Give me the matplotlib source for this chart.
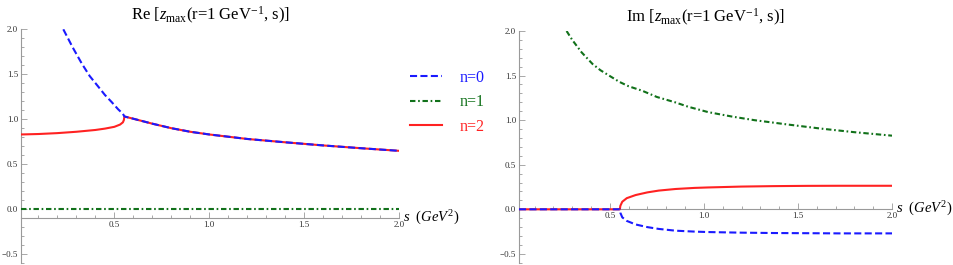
import matplotlib
matplotlib.use("Agg")
import matplotlib.pyplot as plt
from matplotlib.lines import Line2D
from matplotlib.transforms import offset_copy

plt.rcParams['font.family'] = ['Liberation Serif', 'DejaVu Serif']
plt.rcParams['mathtext.fontset'] = 'custom'
plt.rcParams['mathtext.rm'] = 'Liberation Serif'
plt.rcParams['mathtext.it'] = 'Liberation Serif:italic'

# ---------------- data ----------------
series_labels = ['n=0', 'n=1', 'n=2']

# Real part
re_n0_s = [0.231, 0.28, 0.328, 0.37, 0.416, 0.45, 0.486, 0.52, 0.545, 0.553,
           0.6, 0.7, 0.8, 0.9, 1.0, 1.2, 1.4, 1.6, 1.8, 2.0]
re_n0_v = [2.0, 1.80, 1.62, 1.48, 1.36, 1.27, 1.19, 1.11, 1.06, 1.03,
           1.005, 0.95, 0.90, 0.86, 0.83, 0.78, 0.743, 0.708, 0.677, 0.648]
re_n1_s = [0.008, 2.0]
re_n1_v = [0.0, 0.0]
re_n2_s = [0.008, 0.1, 0.2, 0.3, 0.4, 0.45, 0.5, 0.53, 0.545, 0.55, 0.553,
           0.6, 0.7, 0.8, 0.9, 1.0, 1.2, 1.4, 1.6, 1.8, 2.0]
re_n2_v = [0.83, 0.835, 0.845, 0.86, 0.88, 0.895, 0.915, 0.94, 0.965, 0.99, 1.03,
           1.005, 0.95, 0.90, 0.86, 0.83, 0.78, 0.743, 0.708, 0.677, 0.648]

# Imaginary part
im_n0_s = [0.017, 0.553, 0.556, 0.566, 0.59, 0.637, 0.7, 0.76, 0.85, 0.95,
           1.02, 1.2, 1.37, 1.55, 1.72, 2.0]
im_n0_v = [0.0, 0.0, -0.04, -0.09, -0.13, -0.17, -0.20, -0.22, -0.24, -0.25,
           -0.255, -0.262, -0.266, -0.268, -0.27, -0.27]
im_n1_s = [0.27, 0.3, 0.35, 0.408, 0.45, 0.496, 0.55, 0.6, 0.672, 0.75, 0.847,
           0.917, 1.023, 1.15, 1.268, 1.45, 1.619, 1.8, 2.0]
im_n1_v = [2.0, 1.90, 1.76, 1.63, 1.56, 1.50, 1.43, 1.38, 1.33, 1.26, 1.20,
           1.15, 1.09, 1.04, 1.0, 0.95, 0.906, 0.865, 0.826]
im_n2_s = [0.017, 0.553, 0.556, 0.566, 0.59, 0.637, 0.7, 0.76, 0.85, 0.95,
           1.02, 1.2, 1.37, 1.55, 1.72, 2.0]
im_n2_v = [0.0, 0.0, 0.04, 0.085, 0.125, 0.16, 0.19, 0.21, 0.228, 0.24,
           0.245, 0.255, 0.26, 0.263, 0.264, 0.264]

xticks = [0.5, 1.0, 1.5, 2.0]
xtick_labels = ['0.5', '1.0', '1.5', '2.0']
yticks = [-0.5, 0.0, 0.5, 1.0, 1.5, 2.0]
ytick_labels = ['\u22120.5', '0.0', '0.5', '1.0', '1.5', '2.0']
xminor = [0.1 * i for i in range(1, 20)]
yminor = [-0.6 + 0.1 * i for i in range(0, 27)]

titles = [r'Re [$z_{\mathrm{max}}$(r=1 GeV$^{-1}$, s)]',
          r'Im [$z_{\mathrm{max}}$(r=1 GeV$^{-1}$, s)]']
xlabel = r'$s\ \ (GeV^2)$'

# ---------------- styles ----------------
C_BLUE = '#1a1aff'
C_GREEN = '#11711a'
C_RED = '#ff2222'
LW = 1.5
DASH = (3.4, 1.6)
DASHDOT = (2.6, 1.3, 0.8, 1.3)

W, H = 954, 265
fig = plt.figure(figsize=(W / 100, H / 100), dpi=100)


def px_axes(x0, x1, ytop, ybot):
    return fig.add_axes([x0 / W, 1 - ybot / H, (x1 - x0) / W, (ybot - ytop) / H])


axL = px_axes(21, 399, 29.3, 263)
axR = px_axes(519, 892, 31, 262.8)


def style_axis(ax, xmin, xaxis_y):
    ax.set_xlim(xmin, 2.0)
    ax.set_ylim(-0.6, 2.0)
    for sp in ['top', 'right']:
        ax.spines[sp].set_visible(False)
    ax.spines['bottom'].set_position(('data', xaxis_y))
    for sp in ['left', 'bottom']:
        ax.spines[sp].set_color('#9a9a9a')
        ax.spines[sp].set_linewidth(0.8)
        ax.spines[sp].set_zorder(1)
    ax.set_xticks(xticks)
    ax.set_xticklabels(xtick_labels)
    ax.set_yticks(yticks)
    ax.set_yticklabels(ytick_labels)
    ax.set_xticks(xminor, minor=True)
    ax.set_yticks(yminor, minor=True)
    ax.tick_params(which='both', direction='in', color='#9a9a9a', width=0.6,
                   labelsize=6.5, labelcolor='#333333', pad=2)
    ax.tick_params(which='major', length=4.5)
    ax.tick_params(which='minor', length=2.5)
    ax.patch.set_visible(False)


style_axis(axL, 0.008, -0.1)
style_axis(axR, 0.017, 0.0)

# Left panel: real parts
axL.plot(re_n1_s, re_n1_v, color=C_GREEN, lw=LW, dashes=DASHDOT, zorder=3)
axL.plot(re_n2_s, re_n2_v, color=C_RED, lw=LW, zorder=3)
axL.plot(re_n0_s, re_n0_v, color=C_BLUE, lw=LW, dashes=DASH, zorder=4)

# Right panel: imaginary parts
axR.plot(im_n1_s, im_n1_v, color=C_GREEN, lw=LW, dashes=DASHDOT, zorder=3)
axR.plot(im_n2_s, im_n2_v, color=C_RED, lw=LW, zorder=3)
axR.plot(im_n0_s, im_n0_v, color=C_BLUE, lw=LW, dashes=DASH, zorder=4)

for ax, t in zip([axL, axR], titles):
    ax.set_title(t, fontsize=12, pad=6.5)

for ax, yax in ((axL, -0.1), (axR, 0.0)):
    ax.text(2.0, yax, xlabel, fontsize=10.5, ha='left', va='center',
            transform=offset_copy(ax.transData, fig=fig, x=3, y=0, units='points'),
            clip_on=False)

handles = [Line2D([], [], color=C_BLUE, lw=LW, dashes=DASH),
           Line2D([], [], color=C_GREEN, lw=LW, dashes=DASHDOT),
           Line2D([], [], color=C_RED, lw=LW)]
fig.legend(handles, series_labels, loc='upper left',
           bbox_to_anchor=(410 / W, 1 - 69.5 / H), frameon=False,
           fontsize=11.5, handlelength=2.0, handletextpad=1.1,
           labelspacing=0.55, borderpad=0, borderaxespad=0,
           labelcolor=[C_BLUE, C_GREEN, C_RED])

fig.savefig('out.png', dpi=100)
